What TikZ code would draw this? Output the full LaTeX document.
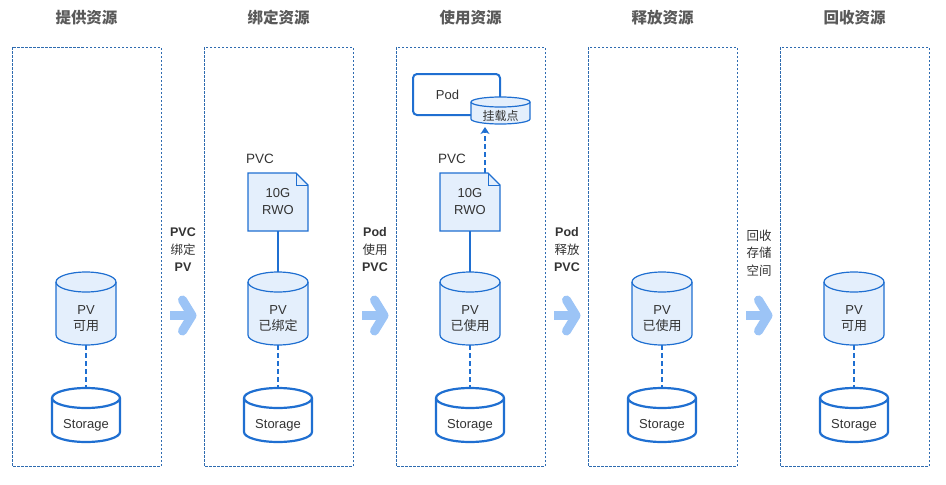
\documentclass[tikz,border=0pt]{standalone}
\usepackage{fontspec}
\setmainfont{Liberation Sans}
\newfontfamily\cjk{Noto Sans CJK SC}
\usetikzlibrary{arrows.meta,calc}
\definecolor{mblue}{HTML}{1F6FD1}
\definecolor{mfill}{HTML}{E4EFFC}
\definecolor{pborder}{HTML}{2E6BB0}
\definecolor{arr}{HTML}{9CC4F6}
\definecolor{ttl}{HTML}{595959}
\definecolor{txt}{HTML}{333333}
\tikzset{
  panel/.style={draw=pborder, line width=0.9pt, dash pattern=on 2.5pt off 1.5pt},
  title/.style={font=\fontsize{15.5}{18}\selectfont\bfseries\cjk, text=ttl},
  lbl/.style={font=\fontsize{12.5}{17.5}\selectfont, text=txt, align=center},
  cyltext/.style={font=\fontsize{13}{16.5}\selectfont, text=txt, align=center, inner sep=0pt},
  pvcyl/.style={draw=mblue, fill=mfill, line width=1.2pt},
  stcyl/.style={draw=mblue, fill=white, line width=2.2pt},
  docstyle/.style={draw=mblue, fill=mfill, line width=1.2pt},
  doctext/.style={font=\fontsize{13}{17}\selectfont, text=txt, align=center, inner sep=0pt},
  solidconn/.style={draw=mblue, line width=2pt},
  dashconn/.style={draw=mblue, line width=2.5pt, dash pattern=on 5pt off 3pt},
  trans/.style={draw=arr, line width=9pt},
}
\newcommand\mycyl[8]{%
  \path[#7] ({#2-#4},{#3+#6}) -- ({#2-#4},{#5-#6}) arc[start angle=180,end angle=360,x radius=#4pt,y radius=#6pt] -- ({#2+#4},{#3+#6}) arc[start angle=0,end angle=180,x radius=#4pt,y radius=#6pt] -- cycle;
  \draw[#7,fill=none] ({#2-#4},{#3+#6}) arc[start angle=180,end angle=360,x radius=#4pt,y radius=#6pt];
  \coordinate (#1-top) at (#2,#3);
  \coordinate (#1-bot) at (#2,#5);
  \node[cyltext] (#1) at (#2,{(#3+2*#6+#5)/2}) {#8};
}
\newcommand\mydoc[4]{%
  \path[docstyle] (#2,#3) -- ({#2+48},#3) -- ({#2+60},{#3+12}) -- ({#2+60},{#3+58}) -- (#2,{#3+58}) -- cycle;
  \draw[docstyle,fill=none,line width=0.8pt] ({#2+48},#3) -- ({#2+48},{#3+12}) -- ({#2+60},{#3+12});
  \node[doctext] (#1) at ({#2+30},{#3+29}) {#4};
  \coordinate (#1-top) at ({#2+30},#3);
  \coordinate (#1-bot) at ({#2+30},{#3+58});
}
\newcommand\transarrow[1]{%
  \draw[trans, line cap=butt] (#1,315.5) -- ({#1+20},315.5);
  \draw[trans, line cap=round, line join=round] ({#1+12.5},300) -- ({#1+22},315.5) -- ({#1+12.5},331);
}
\begin{document}
\begin{tikzpicture}[x=1pt,y=-1pt]
\useasboundingbox (0,0) rectangle (946,485);
% panels
\foreach \px in {12,204,396,588,780}{
  \draw[panel] (\px,47) rectangle ({\px+149},466);
}
% titles
\node[title] (t1) at (86.5,18) {提供资源};
\node[title] (t2) at (278.5,18) {绑定资源};
\node[title] (t3) at (470.5,18) {使用资源};
\node[title] (t4) at (662.5,18) {释放资源};
\node[title] (t5) at (854.5,18) {回收资源};

% storage cylinders
\mycyl{st1}{86}{388}{34}{442}{10}{stcyl}{Storage}
\mycyl{st2}{278}{388}{34}{442}{10}{stcyl}{Storage}
\mycyl{st3}{470}{388}{34}{442}{10}{stcyl}{Storage}
\mycyl{st4}{662}{388}{34}{442}{10}{stcyl}{Storage}
\mycyl{st5}{854}{388}{34}{442}{10}{stcyl}{Storage}
% PV cylinders
\mycyl{pv1}{86}{272}{30}{345}{10}{pvcyl}{PV\\{\cjk 可用}}
\mycyl{pv2}{278}{272}{30}{345}{10}{pvcyl}{PV\\{\cjk 已绑定}}
\mycyl{pv3}{470}{272}{30}{345}{10}{pvcyl}{PV\\{\cjk 已使用}}
\mycyl{pv4}{662}{272}{30}{345}{10}{pvcyl}{PV\\{\cjk 已使用}}
\mycyl{pv5}{854}{272}{30}{345}{10}{pvcyl}{PV\\{\cjk 可用}}
% dashed PV-storage
\foreach \i in {1,...,5}{
  \draw[dashconn] (pv\i-bot) -- (st\i-top);
}
% PVC docs
\node[font=\fontsize{13.5}{16}\selectfont, text=txt, anchor=west, inner sep=0pt] (pvclbl2) at (246,159) {PVC};
\node[font=\fontsize{13.5}{16}\selectfont, text=txt, anchor=west, inner sep=0pt] (pvclbl3) at (438,159) {PVC};
\mydoc{doc2}{248}{173}{10G\\RWO}
\mydoc{doc3}{440}{173}{10G\\RWO}
\draw[solidconn] (doc2-bot) -- (pv2-top);
\draw[solidconn] (doc3-bot) -- (pv3-top);
% Pod
\node[draw=mblue, line width=2pt, rounded corners=4pt, minimum width=87pt, minimum height=41pt, inner sep=0pt] (pod) at (456.5,94.5) {};
\node[cyltext] (podtxt) at (447.5,95) {Pod};
\mycyl{mnt}{500.5}{97}{29.5}{124}{5}{pvcyl}{\fontsize{12}{14}\selectfont\cjk 挂载点}
\coordinate (doc3-up) at (485,173);
\draw[draw=mblue, line width=2.2pt, dash pattern=on 5pt off 3pt, -{Stealth[length=7pt,width=9pt,inset=2pt]}] (doc3-up) -- ($(doc3-up |- mnt-bot)+(0,3)$);

% transitions
\transarrow{170}
\transarrow{362}
\transarrow{554}
\transarrow{746}
\node[lbl] (l1) at (183,250) {\textbf{PVC}\\{\cjk 绑定}\\\textbf{PV}};
\node[lbl] (l2) at (375,250) {\textbf{Pod}\\{\cjk 使用}\\\textbf{PVC}};
\node[lbl] (l3) at (567,250) {\textbf{Pod}\\{\cjk 释放}\\\textbf{PVC}};
\node[lbl] (l4) at (759,253) {{\cjk 回收}\\{\cjk 存储}\\{\cjk 空间}};
\end{tikzpicture}
\end{document}
